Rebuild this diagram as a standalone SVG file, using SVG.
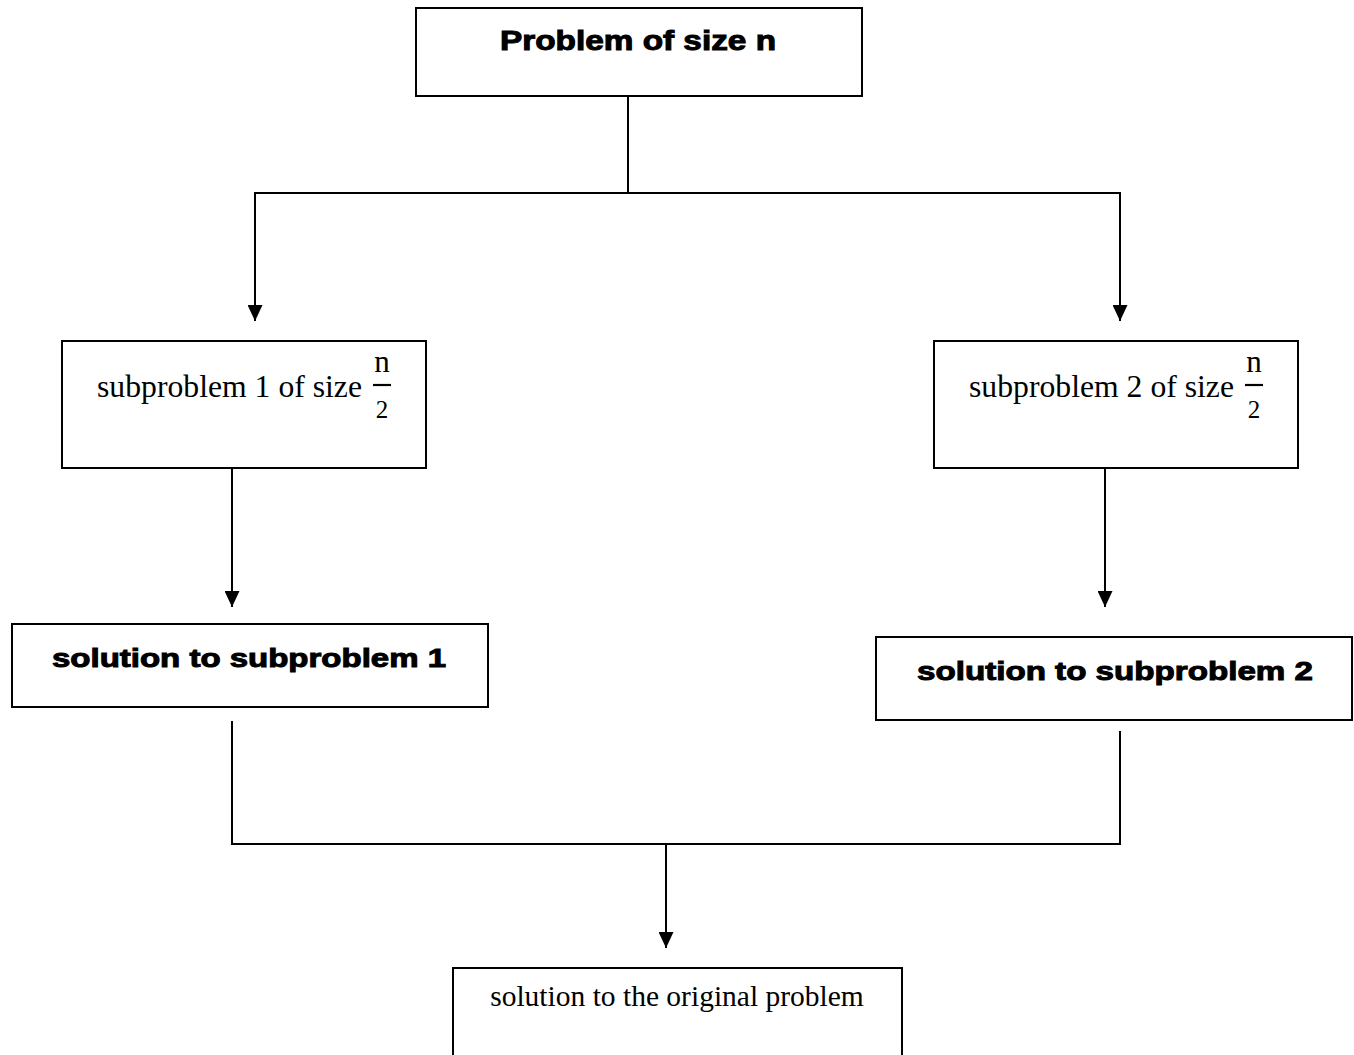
<svg xmlns="http://www.w3.org/2000/svg" width="1354" height="1055" viewBox="0 0 1354 1055">
  <style>
    .box { fill: #ffffff; stroke: #000000; stroke-width: 2; }
    .wire { fill: none; stroke: #000000; stroke-width: 2; }
    .heavy { font-family: "Liberation Sans", Arial, sans-serif; font-weight: bold; fill: #000; stroke: #000; stroke-width: 1; }
    .plain { font-family: "Liberation Serif", "Times New Roman", serif; fill: #000; }
    .math { font-family: "Liberation Serif", "Times New Roman", serif; fill: #000; }
  </style>
  <defs>
    <marker id="head" viewBox="0 0 16 15" refX="16" refY="7.5" markerWidth="16" markerHeight="15" markerUnits="userSpaceOnUse" orient="auto">
      <path d="M0,0 L16,7.5 L0,15 Z" fill="#000"/>
    </marker>
  </defs>
  <rect width="1354" height="1055" fill="#ffffff"/>

  <g id="connectors">
    <!-- split: problem into two subproblems -->
    <path class="wire" d="M628,96 V193"/>
    <path class="wire" d="M254,193 H1121"/>
    <path class="wire" d="M255,193 V321" marker-end="url(#head)"/>
    <path class="wire" d="M1120,193 V321" marker-end="url(#head)"/>
    <!-- solve each subproblem -->
    <path class="wire" d="M232,469 V607" marker-end="url(#head)"/>
    <path class="wire" d="M1105,469 V607" marker-end="url(#head)"/>
    <!-- combine -->
    <path class="wire" d="M232,721 V844 H1120 V731"/>
    <path class="wire" d="M666,843 V948" marker-end="url(#head)"/>
  </g>

  <g id="problem">
    <rect class="box" x="416" y="8" width="446" height="88"/>
    <text class="heavy" x="638" y="50" font-size="27.5" text-anchor="middle" textLength="276" lengthAdjust="spacingAndGlyphs">Problem of size n</text>
  </g>

  <g id="subproblem1">
    <rect class="box" x="62" y="341" width="364" height="127"/>
    <text class="plain" x="97" y="397" font-size="32" textLength="265" lengthAdjust="spacingAndGlyphs">subproblem 1 of size</text>
    <text class="math" x="382" y="372" font-size="31" text-anchor="middle">n</text>
    <line x1="373" y1="385" x2="391" y2="385" stroke="#000" stroke-width="2.2"/>
    <text class="math" x="382" y="418" font-size="25" text-anchor="middle">2</text>
  </g>

  <g id="subproblem2">
    <rect class="box" x="934" y="341" width="364" height="127"/>
    <text class="plain" x="969" y="397" font-size="32" textLength="265" lengthAdjust="spacingAndGlyphs">subproblem 2 of size</text>
    <text class="math" x="1254" y="372" font-size="31" text-anchor="middle">n</text>
    <line x1="1245" y1="385" x2="1263" y2="385" stroke="#000" stroke-width="2.2"/>
    <text class="math" x="1254" y="418" font-size="25" text-anchor="middle">2</text>
  </g>

  <g id="solution1">
    <rect class="box" x="12" y="624" width="476" height="83"/>
    <text class="heavy" x="249" y="667" font-size="26.5" text-anchor="middle" textLength="394" lengthAdjust="spacingAndGlyphs">solution to subproblem 1</text>
  </g>

  <g id="solution2">
    <rect class="box" x="876" y="637" width="476" height="83"/>
    <text class="heavy" x="1115" y="680" font-size="26.5" text-anchor="middle" textLength="396" lengthAdjust="spacingAndGlyphs">solution to subproblem 2</text>
  </g>

  <g id="solution">
    <rect class="box" x="453" y="968" width="449" height="100"/>
    <text class="plain" x="677" y="1006" font-size="29.5" text-anchor="middle">solution to the original problem</text>
  </g>
</svg>
